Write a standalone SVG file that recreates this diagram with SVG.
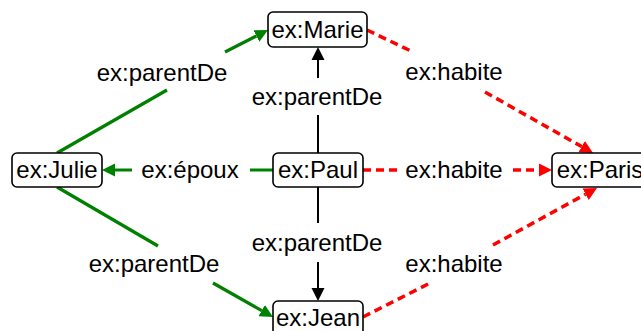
<svg xmlns="http://www.w3.org/2000/svg" width="641" height="331" viewBox="0 0 641 331">
<style>
text{font-family:"Liberation Sans",Arial,sans-serif;font-size:24px;fill:#000;text-anchor:middle}
.box{fill:#fff;stroke:#000;stroke-width:1.6}
.g{fill:none;stroke:#008000;stroke-width:3.2}
.k{fill:none;stroke:#000;stroke-width:2}
.r{fill:none;stroke:#ff0000;stroke-width:3.5;stroke-dasharray:8 5}
</style>
<defs>
<marker id="ag" markerUnits="userSpaceOnUse" markerWidth="13" markerHeight="14" refX="0" refY="6.5" orient="auto" viewBox="0 0 13 13"><path d="M0,0 L13,6.5 L0,13 z" fill="#008000"/></marker>
<marker id="ak" markerUnits="userSpaceOnUse" markerWidth="13" markerHeight="14" refX="0" refY="6.5" orient="auto" viewBox="0 0 13 13"><path d="M0,0 L13,6.5 L0,13 z" fill="#000"/></marker>
<marker id="ar" markerUnits="userSpaceOnUse" markerWidth="13" markerHeight="14" refX="0" refY="6.5" orient="auto" viewBox="0 0 13 13"><path d="M0,0 L13,6.5 L0,13 z" fill="#ff0000"/></marker>
</defs>
<g id="connectors">
<path class="g" d="M57,153 L167,90 M225,52 L256.4,36" marker-end="url(#ag)"/>
<path class="g" d="M273,170 L250,170 M132,170 L115,170" marker-end="url(#ag)"/>
<path class="g" d="M57,187 L158,246 M213,283 L261.7,310.6" marker-end="url(#ag)"/>
<path class="k" d="M318,153 L318,115 M318,78 L318,60" marker-end="url(#ak)"/>
<path class="k" d="M318,187 L318,223 M318,262 L318,288" marker-end="url(#ak)"/>
<path class="r" d="M367,30 L413,52 M485,92 L581.7,146.6" marker-end="url(#ar)"/>
<path class="r" d="M363,170 L397,170 M513,170 L539,170" marker-end="url(#ar)"/>
<path class="r" d="M363,317 L430,283 M493,245 L585.6,194.2" marker-end="url(#ar)"/>
<text x="162" y="80.5">ex:parentDe</text>
<text x="317" y="105">ex:parentDe</text>
<text x="190" y="178">ex:époux</text>
<text x="317" y="250.5">ex:parentDe</text>
<text x="154" y="271.5">ex:parentDe</text>
<text x="454" y="80">ex:habite</text>
<text x="454" y="178">ex:habite</text>
<text x="454" y="271.5">ex:habite</text>
</g>
<g id="marie"><rect class="box" x="268" y="12" width="99" height="35" rx="5"/><text x="317.5" y="37.5">ex:Marie</text></g>
<g id="julie"><rect class="box" x="12" y="153" width="90" height="34" rx="5"/><text x="57" y="178">ex:Julie</text></g>
<g id="paul"><rect class="box" x="273" y="153" width="90" height="34" rx="5"/><text x="318" y="178">ex:Paul</text></g>
<g id="paris"><rect class="box" x="552" y="153" width="96" height="34" rx="5"/><text x="600" y="178">ex:Paris</text></g>
<g id="jean"><rect class="box" x="273" y="301" width="90" height="34" rx="5"/><text x="318" y="326">ex:Jean</text></g>
</svg>
